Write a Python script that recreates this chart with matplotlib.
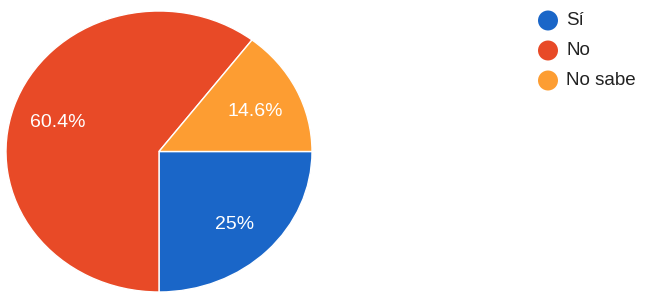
import matplotlib
matplotlib.use("Agg")
import matplotlib.pyplot as plt
from matplotlib.transforms import offset_copy

categories = ["Sí", "No", "No sabe"]
values = [25.0, 60.4, 14.6]
colors = ["#1a66c8", "#e84a27", "#fd9d32"]

plt.rcParams['font.family'] = ['Liberation Sans', 'DejaVu Sans']

W, H = 650, 301
fig = plt.figure(figsize=(W / 100, H / 100), dpi=100)

# pie axes in pixel geometry (slightly elliptical as in the reference)
cx, cy, rx, ry = 159, 151.5, 153, 140.5
ax = fig.add_axes([(cx - rx) / W, (H - (cy + ry)) / H, 2 * rx / W, 2 * ry / H])
wedges, texts, autotexts = ax.pie(
    values, colors=colors, startangle=0, counterclock=False,
    autopct=lambda p: f"{round(p, 1):g}%", pctdistance=0.7,
    wedgeprops=dict(edgecolor="white", linewidth=1),
    textprops=dict(color="white", fontsize=14))
for t in autotexts:
    t.set_transform(offset_copy(t.get_transform(), fig=fig, x=0, y=-2.2, units='points'))
ax.set_xlim(-1, 1)
ax.set_ylim(-1, 1)
ax.set_aspect('auto')
ax.axis('off')

# legend
lax = fig.add_axes([0, 0, 1, 1])
lax.set_xlim(0, W)
lax.set_ylim(H, 0)
lax.axis('off')
for i, (lab, col) in enumerate(zip(categories, colors)):
    y = 20.5 + i * 30
    lax.scatter([548], [y], s=207, color=col, edgecolors='none')
    lax.text(566, y, lab, fontsize=13.5, color="#222222", va='center', ha='left')

fig.savefig("out.png", dpi=100)
